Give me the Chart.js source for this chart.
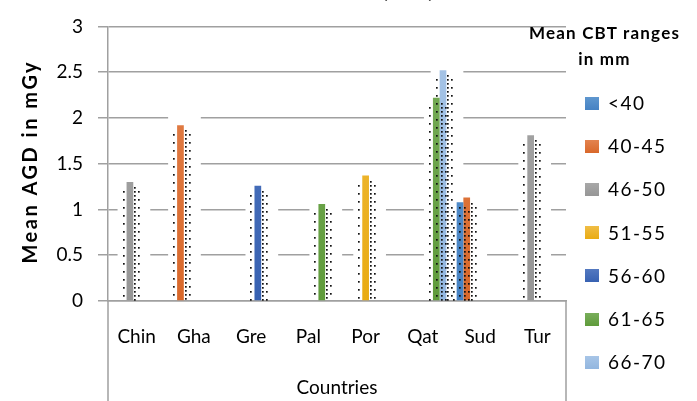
<!DOCTYPE html>
<html>
<head>
<meta charset="utf-8">
<script src="https://cdn.jsdelivr.net/npm/chart.js@4"></script>
<style>
html,body{margin:0;padding:0;background:#fff;}
#wrap{position:relative;width:697px;height:401px;overflow:hidden;}
#c{position:absolute;left:0;top:0;}
#legend{position:absolute;left:512px;top:0;width:185px;font-family:Lato,'Liberation Sans',sans-serif;color:#000;}
#legend .t{position:absolute;left:0;width:185px;text-align:center;font-weight:bold;font-size:17px;line-height:20px;letter-spacing:1.2px;}
#legend .it{position:absolute;left:73px;height:20px;font-size:19px;line-height:20px;white-space:nowrap;letter-spacing:1.5px;}
#legend .sw{display:inline-block;width:14px;height:13px;vertical-align:middle;margin-right:9px;position:relative;top:-2px;}
</style>
</head>
<body>
<div id="wrap">
<canvas id="c" width="697" height="401"></canvas>
<div id="legend"></div>
</div>
<script>
const categories = ['Chin','Gha','Gre','Pal','Por','Qat','Sud','Tur'];
const seriesNames = ['<40','40-45','46-50','51-55','56-60','61-65','66-70'];
const s_lt40  = [null, null, null, null, null, null, 1.08, null];
const s_40_45 = [null, 1.92, null, null, null, null, 1.13, null];
const s_46_50 = [1.30, null, null, null, null, null, null, 1.81];
const s_51_55 = [null, null, null, null, 1.37, null, null, null];
const s_56_60 = [null, null, 1.26, null, null, null, null, null];
const s_61_65 = [null, null, null, 1.06, null, 2.22, null, null];
const s_66_70 = [null, null, null, null, null, 2.52, null, null];
const seriesValues = [s_lt40, s_40_45, s_46_50, s_51_55, s_56_60, s_61_65, s_66_70];
const seriesColors = ['#4682c3','#d9682a','#969696','#e9ab12','#3862b2','#5f9b3b','#92b6df'];
const seriesColorsTop = ['#5f97cf','#e3834f','#a8a8a8','#f0bd45','#5479c0','#79ae5b','#a7c5e7'];
const yTicks = [0, 0.5, 1, 1.5, 2, 2.5, 3];
const yTitle = 'Mean AGD in mGy';
const xTitle = 'Countries';
const legendTitle = ['Mean CBT ranges', 'in mm'];

const FONT = "Lato, 'Liberation Sans', sans-serif";

// legend (HTML)
const lg = document.getElementById('legend');
legendTitle.forEach((t,i)=>{
  const d=document.createElement('div'); d.className='t'; d.textContent=t;
  d.style.top=(23+i*26)+'px'; lg.appendChild(d);
});
seriesNames.forEach((n,i)=>{
  const d=document.createElement('div'); d.className='it';
  d.style.top=(93+i*43.2)+'px';
  const sw=document.createElement('span'); sw.className='sw';
  sw.style.background='linear-gradient('+seriesColorsTop[i]+','+seriesColors[i]+')';
  d.appendChild(sw); d.appendChild(document.createTextNode(n)); lg.appendChild(d);
});

function barFill(i){
  return (ctx)=>{
    const ch=ctx.chart, a=ch.chartArea;
    if(!a) return seriesColors[i];
    const g=ch.ctx.createLinearGradient(0,a.top,0,a.bottom);
    g.addColorStop(0,seriesColorsTop[i]); g.addColorStop(1,seriesColors[i]);
    return g;
  };
}

// white shadow areas + dotted texture around bars
const shadowPlugin = {
  id:'shadow',
  beforeDatasetsDraw(chart){
    const ctx=chart.ctx; ctx.save(); ctx.fillStyle='#fff';
    chart.data.datasets.forEach((ds,di)=>{
      chart.getDatasetMeta(di).data.forEach((el,i)=>{
        if(ds.data[i]==null) return;
        const L=el.x-el.width/2, R=el.x+el.width/2;
        ctx.fillRect(L-9, el.y-10, (R+17)-(L-9), el.base-1-(el.y-10));
      });
    });
    ctx.restore();
  },
  afterDatasetsDraw(chart){
    const ctx=chart.ctx; ctx.save(); ctx.fillStyle='#111';
    chart.data.datasets.forEach((ds,di)=>{
      chart.getDatasetMeta(di).data.forEach((el,i)=>{
        if(ds.data[i]==null) return;
        const L=el.x-el.width/2, R=el.x+el.width/2, T=el.y, B=el.base;
        for(let y=T+9;y<B;y+=8){ ctx.fillRect(Math.round(L-4),Math.round(y),1.7,1.7); ctx.fillRect(Math.round(R+5),Math.round(y),1.7,1.7); }
        for(let y=T+5;y<B;y+=4){ ctx.fillRect(Math.round(R+1),Math.round(y),1.7,1.7); }
      });
    });
    ctx.restore();
  },
  afterDraw(chart){
    const ctx=chart.ctx, a=chart.chartArea; ctx.save();
    ctx.strokeStyle='#a0a0a0'; ctx.lineWidth=1.5;
    ctx.beginPath();
    ctx.moveTo(a.left, a.bottom); ctx.lineTo(a.left, 401);
    ctx.moveTo(a.right, a.bottom); ctx.lineTo(a.right, 401);
    ctx.stroke();
    // y axis title
    ctx.fillStyle='#000';
    ctx.font="bold 20px "+FONT;
    ctx.letterSpacing='2.5px';
    ctx.textAlign='center'; ctx.textBaseline='middle';
    ctx.translate(31,(a.top+a.bottom)/2-2); ctx.rotate(-Math.PI/2);
    ctx.fillText(yTitle,0,0);
    ctx.restore();
    // partially visible chart title at the very top
    ctx.save();
    ctx.fillStyle='#000'; ctx.font="bold 19px "+FONT; ctx.textAlign='center'; ctx.textBaseline='alphabetic';
    ctx.fillText('(AGD)', 408, -2);
    ctx.restore();
  }
};

new Chart(document.getElementById('c'), {
  type:'bar',
  data:{
    labels:categories,
    datasets:seriesNames.map((n,i)=>({label:n,data:seriesValues[i],backgroundColor:barFill(i),borderWidth:0}))
  },
  options:{
    responsive:false, animation:false,
    layout:{padding:{top:16,right:131,bottom:0,left:0}},
    datasets:{bar:{categoryPercentage:0.82,barPercentage:1.0}},
    plugins:{legend:{display:false},tooltip:{enabled:false},title:{display:false}},
    scales:{
      x:{
        grid:{display:false,drawTicks:false},
        border:{display:true,color:'#a0a0a0',width:1.5},
        ticks:{font:{family:FONT,size:19},color:'#000',padding:24,maxRotation:0,autoSkip:false},
        title:{display:true,text:xTitle,font:{family:FONT,size:19},color:'#000',padding:{top:0,bottom:2}},
        afterFit(s){s.height=100;}
      },
      y:{
        min:0,max:3,
        afterBuildTicks(s){s.ticks=yTicks.map(v=>({value:v}));},
        grid:{color:'#a0a0a0',lineWidth:1.5,tickLength:10,drawTicks:true},
        border:{display:true,color:'#a0a0a0',width:1.5},
        ticks:{font:{family:FONT,size:19},color:'#000',padding:15,callback:(v)=>String(v)},
        title:{display:false,text:yTitle},
        afterFit(s){s.width=108;}
      }
    }
  },
  plugins:[shadowPlugin]
});
</script>
</body>
</html>
